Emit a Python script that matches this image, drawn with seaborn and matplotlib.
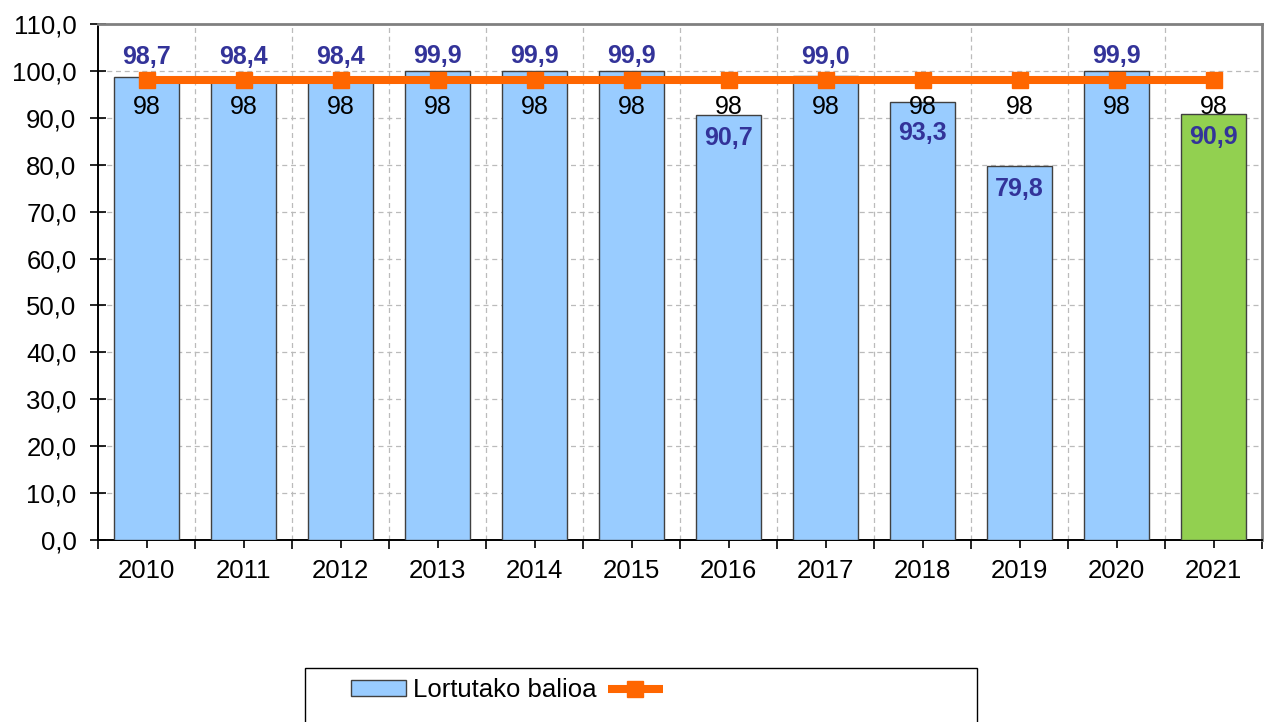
import numpy as np
import matplotlib
matplotlib.use("Agg")
import matplotlib.pyplot as plt
import seaborn as sns
from matplotlib.patches import Patch, Rectangle
from matplotlib.lines import Line2D

# data
years = ['2010', '2011', '2012', '2013', '2014', '2015',
         '2016', '2017', '2018', '2019', '2020', '2021']
values = [98.7, 98.4, 98.4, 99.9, 99.9, 99.9, 90.7, 99.0, 93.3, 79.8, 99.9, 90.9]
target = [98, 98, 98, 98, 98, 98, 98, 98, 98, 98, 98, 98]
y_ticks = [0, 10, 20, 30, 40, 50, 60, 70, 80, 90, 100, 110]
y_tick_labels = ['0,0', '10,0', '20,0', '30,0', '40,0', '50,0',
                 '60,0', '70,0', '80,0', '90,0', '100,0', '110,0']
legend_label = 'Lortutako balioa'

blue = '#99CCFF'
green = '#92D050'
orange = '#FF6600'
label_blue = '#333399'

sns.set_style('white')
plt.rcParams['font.family'] = ['Liberation Sans', 'DejaVu Sans']
plt.rcParams['text.color'] = 'black'
plt.rcParams['xtick.color'] = 'black'
plt.rcParams['ytick.color'] = 'black'

fig = plt.figure(figsize=(12.69, 7.22), dpi=100)
ax = fig.add_axes([98 / 1269, 1 - 540 / 722, (1262 - 98) / 1269, (540 - 24) / 722])

colors = [blue] * (len(years) - 1) + [green]
sns.barplot(x=years, y=values, hue=years, palette=colors, legend=False,
            width=0.66, edgecolor='#404040', linewidth=1.0, saturation=1, ax=ax, zorder=3)

xpos = np.arange(len(years))
ax.plot(xpos, target, color=orange, lw=5.8, marker='s', ms=12, zorder=5)

# pixels per data unit, used to place labels like the original
ppu = 516 / 110.0
for i, v in enumerate(values):
    txt = f"{v:.1f}".replace('.', ',')
    t = target[i]
    if v >= t:
        # above bar (or above the marker if that is higher)
        ylab = max(v, t + 8.5 / ppu) + 15 / ppu
    else:
        # inside the bar, kept clear of the target label
        ylab = min(v - 23 / ppu, t - 53 / ppu)
    ax.text(i, ylab, txt, ha='center', va='center', fontsize=18,
            fontweight='bold', color=label_blue, zorder=6)
    ax.annotate(str(t), (i, t), xytext=(0, -27), textcoords='offset pixels',
                ha='center', va='center', fontsize=18, color='black', zorder=6)

ax.set_ylim(0, 110)
ax.set_xlim(-0.5, len(years) - 0.5)
ax.set_yticks(y_ticks)
ax.set_yticklabels(y_tick_labels)
ax.set_xticks(xpos, minor=False)
ax.set_xticks(np.arange(-0.5, len(years), 1.0), minor=True)
ax.set_xlabel('')
ax.set_ylabel('')

ax.tick_params(axis='y', which='major', direction='inout', length=11, width=1.2,
               labelsize=18.5, pad=10, left=True)
ax.tick_params(axis='x', which='major', direction='out', length=6, width=1.2,
               labelsize=18.5, pad=8, bottom=True)
ax.tick_params(axis='x', which='minor', direction='out', length=6.5, width=1.2, bottom=True)

# dashed grid
ax.grid(False)
for yv in y_ticks[1:-1]:
    ax.axhline(yv, color='#BBBBBB', lw=0.9, ls=(0, (4, 3)), zorder=0)
for xv in np.arange(0.5, len(years) - 1, 1.0):
    ax.axvline(xv, color='#BBBBBB', lw=0.9, ls=(0, (4, 3)), zorder=0)

for side in ['left', 'bottom']:
    ax.spines[side].set_color('black')
    ax.spines[side].set_linewidth(1.4)
for side in ['top', 'right']:
    ax.spines[side].set_visible(True)
    ax.spines[side].set_color('#808080')
    ax.spines[side].set_linewidth(2.0)

# legend box, runs off the bottom edge like the original
fig.add_artist(Rectangle((305 / 1269, -0.05), 672 / 1269, (722 - 668) / 722 + 0.05,
                         transform=fig.transFigure, fill=False, ec='black', lw=1.0))
handles = [Patch(fc=blue, ec='#404040', lw=1.0),
           Line2D([], [], color=orange, lw=5.8, marker='s', ms=12, solid_capstyle='butt')]
fig.legend(handles=handles, labels=[legend_label, ''], ncol=2, frameon=False,
           loc='center left', bbox_to_anchor=(328 / 1269, 1 - 690 / 722),
           fontsize=18.5, handlelength=2.15, handleheight=0.55, handletextpad=0.25,
           columnspacing=0.45)

fig.savefig('out.png', dpi=100)
